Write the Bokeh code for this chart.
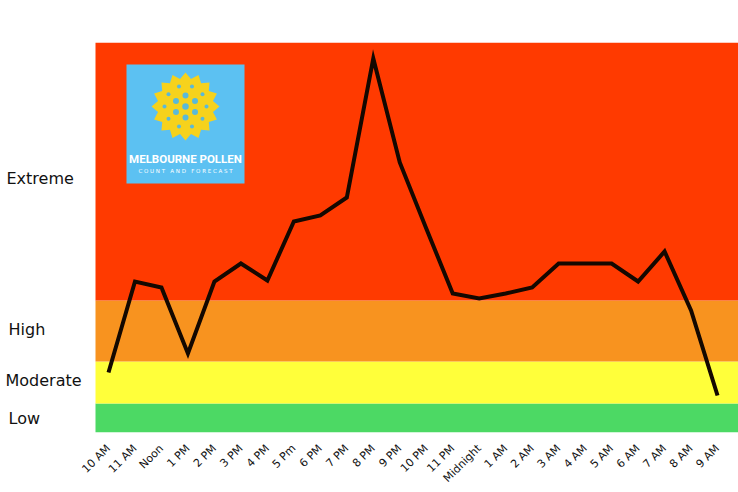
import math
from bokeh.plotting import figure
from bokeh.models import Range1d, FixedTicker
from bokeh.core.properties import value
from bokeh.embed import file_html
from bokeh.resources import INLINE

# ---- data ----
times = ["10 AM", "11 AM", "Noon", "1 PM", "2 PM", "3 PM", "4 PM", "5 Pm", "6 PM",
         "7 PM", "8 PM", "9 PM", "10 PM", "11 PM", "Midnight", "1 AM", "2 AM", "3 AM",
         "4 AM", "5 AM", "6 AM", "7 AM", "8 AM", "9 AM"]
pollen = [60, 151, 145, 79, 151, 169, 152, 211, 217, 235, 374, 270, 204, 139,
          134, 139, 145, 169, 169, 169, 151, 181, 122, 37]

level_names = ["Low", "Moderate", "High", "Extreme"]
level_bottoms = [0, 29, 71, 132]
level_tops = [29, 71, 132, 390]
level_label_y = [14, 52, 103, 254]
level_label_px = [8, 5, 8, 6]
level_colors = ["#4cd964", "#ffff3a", "#f8931f", "#ff3a00"]

idx = list(range(len(times)))

W, H = 738, 492
FTOP, FBOT = 42, 432
SX = 26.48
X0PX = 108  # pixel of first point
x_lo = -X0PX / SX
x_hi = (W - X0PX) / SX

p = figure(width=W, height=H, output_backend="svg", toolbar_location=None,
           x_range=Range1d(x_lo, x_hi), y_range=Range1d(0, FBOT - FTOP),
           min_border_left=0, min_border_right=0, min_border_top=FTOP,
           min_border_bottom=H - FBOT)
p.outline_line_color = None
p.grid.visible = False
p.background_fill_color = "white"
p.border_fill_color = "white"

def dx(px):
    return (px - X0PX) / SX
def dy(py):
    return FBOT - py

# level bands
p.quad(left=[dx(95)] * len(level_colors), right=[x_hi + 1] * len(level_colors),
       bottom=level_bottoms, top=level_tops, fill_color=level_colors, line_color=None)

# logo decoration
p.quad(left=dx(126), right=dx(244), top=dy(64), bottom=dy(183),
       fill_color="#5cc1f2", line_color=None)
cx, cy = 185, 106
xs, ys = [], []
n = 16
for k in range(2 * n):
    r = 34 if k % 2 == 0 else 28
    a = math.pi * k / n
    xs.append(dx(cx + r * math.cos(a)))
    ys.append(dy(cy + r * math.sin(a)))
p.patch(xs, ys, fill_color="#f6d21c", line_color=None)
dotx, doty, dots = [dx(cx)], [dy(cy)], [6.5]
for k in range(6):
    a = math.pi / 6 + 2 * math.pi * k / 6
    dotx.append(dx(cx + 11 * math.cos(a))); doty.append(dy(cy + 11 * math.sin(a))); dots.append(6)
for k in range(10):
    a = 2 * math.pi * k / 10
    dotx.append(dx(cx + 21 * math.cos(a))); doty.append(dy(cy + 21 * math.sin(a))); dots.append(4)
p.scatter(dotx, doty, size=dots, fill_color="#5ab9d9", line_color=None)
p.text(x=[dx(185)], y=[dy(158)], text=["MELBOURNE POLLEN"], text_align="center",
       text_baseline="middle", text_color="white",
       text_font=value("Roboto"), text_font_style="bold",
       text_font_size="11.5px")
nb = "\u00a0"
sub = (nb * 3).join(nb.join(w) for w in ["COUNT", "AND", "FORECAST"])
p.text(x=[dx(185)], y=[dy(170)], text=[sub], text_align="center",
       text_baseline="middle", text_color="white",
       text_font=value("DejaVu Sans"), text_font_size="5.5px")

# line
p.line(idx, pollen, line_color="#140800", line_width=4, line_join="miter")

# level labels
p.text(x=[dx(v) for v in level_label_px], y=level_label_y, text=level_names,
       text_align="left", text_baseline="middle", text_color="#111111",
       text_font=value("DejaVu Sans"), text_font_size="16px")

# axes
p.yaxis.visible = False
ax = p.xaxis[0]
ax.ticker = FixedTicker(ticks=idx)
ax.major_label_overrides = {i: t for i, t in zip(idx, times)}
ax.major_label_orientation = math.pi / 4
ax.major_label_text_font = "DejaVu Sans"
ax.major_label_text_font_size = "11px"
ax.major_label_text_color = "#111111"
ax.axis_line_color = None
ax.major_tick_line_color = None
ax.minor_tick_line_color = None
ax.major_label_standoff = 8

open("out.html", "w").write(file_html(p, INLINE))
